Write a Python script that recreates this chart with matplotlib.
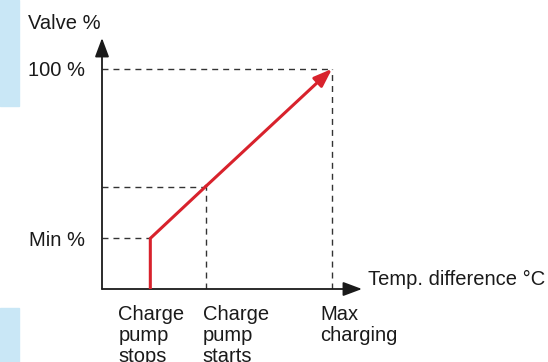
import matplotlib
matplotlib.use("Agg")
import matplotlib.pyplot as plt
from matplotlib.patches import Rectangle

# Temperature-difference control points (arbitrary units, max charging = 100)
temp_points = [21, 45, 100]
temp_labels = ["Charge\npump\nstops", "Charge\npump\nstarts", "Max\ncharging"]
# Valve opening at those points (%)
valve_points = [23, 46.5, 100]
y_tick_values = [23, 100]
y_tick_labels = ["Min %", "100 %"]

RED = "#d8222c"
INK = "#1a1a1a"
DASH = "#333333"
BLUE = "#c9e7f6"
FS = 14.5

plt.rcParams["font.family"] = ["Liberation Sans", "DejaVu Sans"]

W, H = 548, 362
fig = plt.figure(figsize=(W / 100, H / 100), dpi=100)

# side tabs
fig.patches.append(Rectangle((0, (H - 106) / H), 19 / W, 106 / H,
                             transform=fig.transFigure, color=BLUE, zorder=0))
fig.patches.append(Rectangle((0, 0), 19 / W, (H - 308) / H,
                             transform=fig.transFigure, color=BLUE, zorder=0))

ax = fig.add_axes([102 / W, (H - 289) / H, 260 / W, 251 / H])
ax.set_xlim(0, 113)
ax.set_ylim(0, 114)
for s in ax.spines.values():
    s.set_visible(False)
ax.set_xticks([])
ax.set_yticks(y_tick_values)
ax.set_yticklabels(y_tick_labels, fontsize=FS, color=INK)
ax.tick_params(axis="y", length=0, pad=12)

# axes with arrowheads
arrow_kw = dict(arrowstyle="-|>,head_length=1.15,head_width=0.43", color=INK,
                lw=1.3, shrinkA=0, shrinkB=0, mutation_scale=10)
ax.annotate("", xy=(1, 0), xytext=(0, 0), xycoords="axes fraction",
            arrowprops=arrow_kw, annotation_clip=False)
ax.annotate("", xy=(0, 1), xytext=(0, 0), xycoords="axes fraction",
            arrowprops=arrow_kw, annotation_clip=False)

# dashed guide lines
dash = dict(color=DASH, lw=1.0, linestyle=(0, (4.3, 3.6)), zorder=1)
stop_x, start_x, max_x = temp_points
min_y, mid_y, top_y = valve_points
ax.plot([0, stop_x], [min_y, min_y], **dash)
ax.plot([0, start_x], [mid_y, mid_y], **dash)
ax.plot([0, max_x], [top_y, top_y], **dash)
ax.plot([start_x, start_x], [0, mid_y], **dash)
ax.plot([max_x, max_x], [0, top_y], **dash)

# valve characteristic
ax.plot([stop_x, stop_x, start_x], [0, min_y, mid_y], color=RED, lw=2.2,
        solid_joinstyle="miter", zorder=3)
ax.annotate("", xy=(max_x, top_y), xytext=(start_x, mid_y),
            arrowprops=dict(arrowstyle="-|>,head_length=1.1,head_width=0.4",
                            color=RED, lw=2.2, shrinkA=0, shrinkB=0,
                            mutation_scale=10),
            zorder=3)

# labels
ax.annotate("Valve %", xy=(0, 1), xycoords="axes fraction",
            xytext=(-74, 9), textcoords="offset pixels",
            fontsize=FS, color=INK, ha="left", va="baseline",
            annotation_clip=False)
ax.annotate("Temp. difference °C", xy=(1, 0), xycoords="axes fraction",
            xytext=(6, 4), textcoords="offset pixels",
            fontsize=FS, color=INK, ha="left", va="baseline",
            annotation_clip=False)
offsets = [-32, -3, -12]
for x, lab, off in zip(temp_points, temp_labels, offsets):
    ax.annotate(lab, xy=(x, 0), xytext=(off, -16), textcoords="offset pixels",
                fontsize=FS, color=INK, ha="left", va="top",
                linespacing=1.13, annotation_clip=False)

fig.savefig("out.png", dpi=100)
